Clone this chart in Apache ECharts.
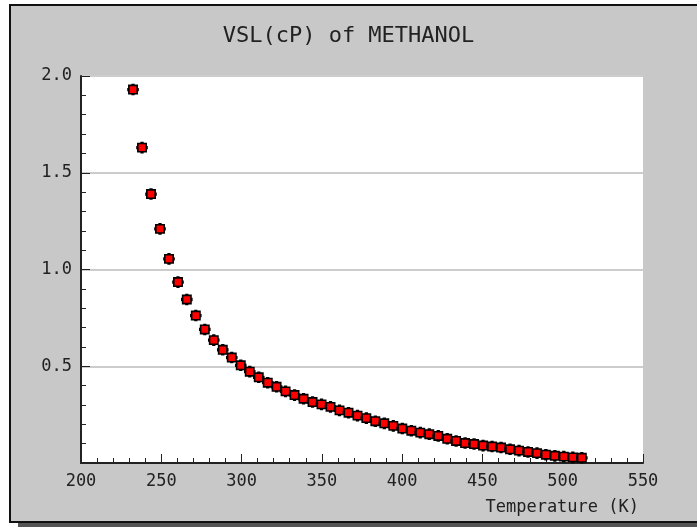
<!DOCTYPE html>
<html>
<head>
<meta charset="utf-8">
<script src="https://cdn.jsdelivr.net/npm/echarts@6/dist/echarts.min.js"></script>
<style>html,body{margin:0;padding:0;background:#fff;}#c{width:697px;height:527px;}</style>
</head>
<body>
<div id="c"></div>
<script>
const titleText = 'VSL(cP) of METHANOL';
const xAxisName = 'Temperature (K)';
const temperature = [232.4,238.0,243.6,249.2,254.8,260.4,265.9,271.5,277.1,282.7,288.3,293.9,299.5,305.1,310.7,316.3,321.8,327.4,333.0,338.6,344.2,349.8,355.4,361.0,366.6,372.2,377.7,383.3,388.9,394.5,400.1,405.7,411.3,416.9,422.5,428.1,433.6,439.2,444.8,450.4,456.0,461.6,467.2,472.8,478.4,484.0,489.5,495.1,500.7,506.3,511.9];
const viscosity = [1.93,1.63,1.39,1.21,1.055,0.935,0.845,0.762,0.690,0.635,0.585,0.545,0.505,0.472,0.443,0.415,0.394,0.370,0.351,0.332,0.315,0.303,0.290,0.272,0.260,0.245,0.232,0.216,0.205,0.192,0.178,0.167,0.157,0.149,0.140,0.125,0.114,0.103,0.098,0.090,0.085,0.080,0.071,0.064,0.057,0.051,0.043,0.037,0.033,0.029,0.027];
const xMin = 200, xMax = 550, xStep = 50;
const yMin = 0, yMax = 2, yStep = 0.5;

const mono = 'DejaVu Sans Mono';
const markerPath = 'path://M1,1H5V0H7V1H11V5H12V7H11V11H7V12H5V11H1V7H0V5H1Z';
const chart = echarts.init(document.getElementById('c'), null, {renderer: 'canvas'});
const pts = temperature.map((t, i) => [t, viscosity[i]]);
chart.setOption({
  backgroundColor: '#ffffff',
  animation: false,
  title: {
    text: titleText, left: 'center', top: 20,
    textStyle: {fontFamily: mono, fontSize: 22, fontWeight: 'normal', color: '#222'}
  },
  graphic: [
    {type: 'rect', z: -10, silent: true, shape: {x: 18, y: 522, width: 700, height: 6}, style: {fill: '#555555'}},
    {type: 'rect', z: -9, silent: true, shape: {x: 10, y: 5, width: 700, height: 517}, style: {fill: '#c8c8c8', stroke: '#111', lineWidth: 2}},
    {type: 'text', z: 10, silent: true, x: 639, y: 508, style: {text: xAxisName, font: '17px "DejaVu Sans Mono"', fill: '#222', textAlign: 'right', textVerticalAlign: 'middle'}}
  ],
  grid: {left: 81, right: 54, top: 76, bottom: 64, show: true, backgroundColor: '#ffffff', borderWidth: 0},
  xAxis: {
    type: 'value', min: xMin, max: xMax, interval: xStep,
    axisLine: {show: true, lineStyle: {color: '#222', width: 2}},
    axisTick: {show: true, inside: true, length: 9, lineStyle: {color: '#222', width: 1}},
    minorTick: {show: true, splitNumber: 5, length: 5, lineStyle: {color: '#222', width: 1}},
    axisLabel: {fontFamily: mono, fontSize: 17, color: '#222', margin: 10},
    splitLine: {show: false}
  },
  yAxis: {
    type: 'value', min: yMin, max: yMax, interval: yStep,
    axisLine: {show: true, lineStyle: {color: '#222', width: 2}},
    axisTick: {show: true, inside: true, length: 9, lineStyle: {color: '#222', width: 1}},
    minorTick: {show: true, splitNumber: 5, length: 5, lineStyle: {color: '#222', width: 1}},
    axisLabel: {fontFamily: mono, fontSize: 17, color: '#222', margin: 9,
      formatter: v => v === 0 ? '' : v.toFixed(1)},
    splitLine: {show: true, lineStyle: {color: '#cccccc', width: 2}}
  },
  series: [{
    type: 'scatter', data: pts, symbol: markerPath, symbolSize: 10,
    itemStyle: {color: '#ff0000', borderColor: '#000', borderWidth: 1.6, opacity: 1}
  }]
});
</script>
</body>
</html>
